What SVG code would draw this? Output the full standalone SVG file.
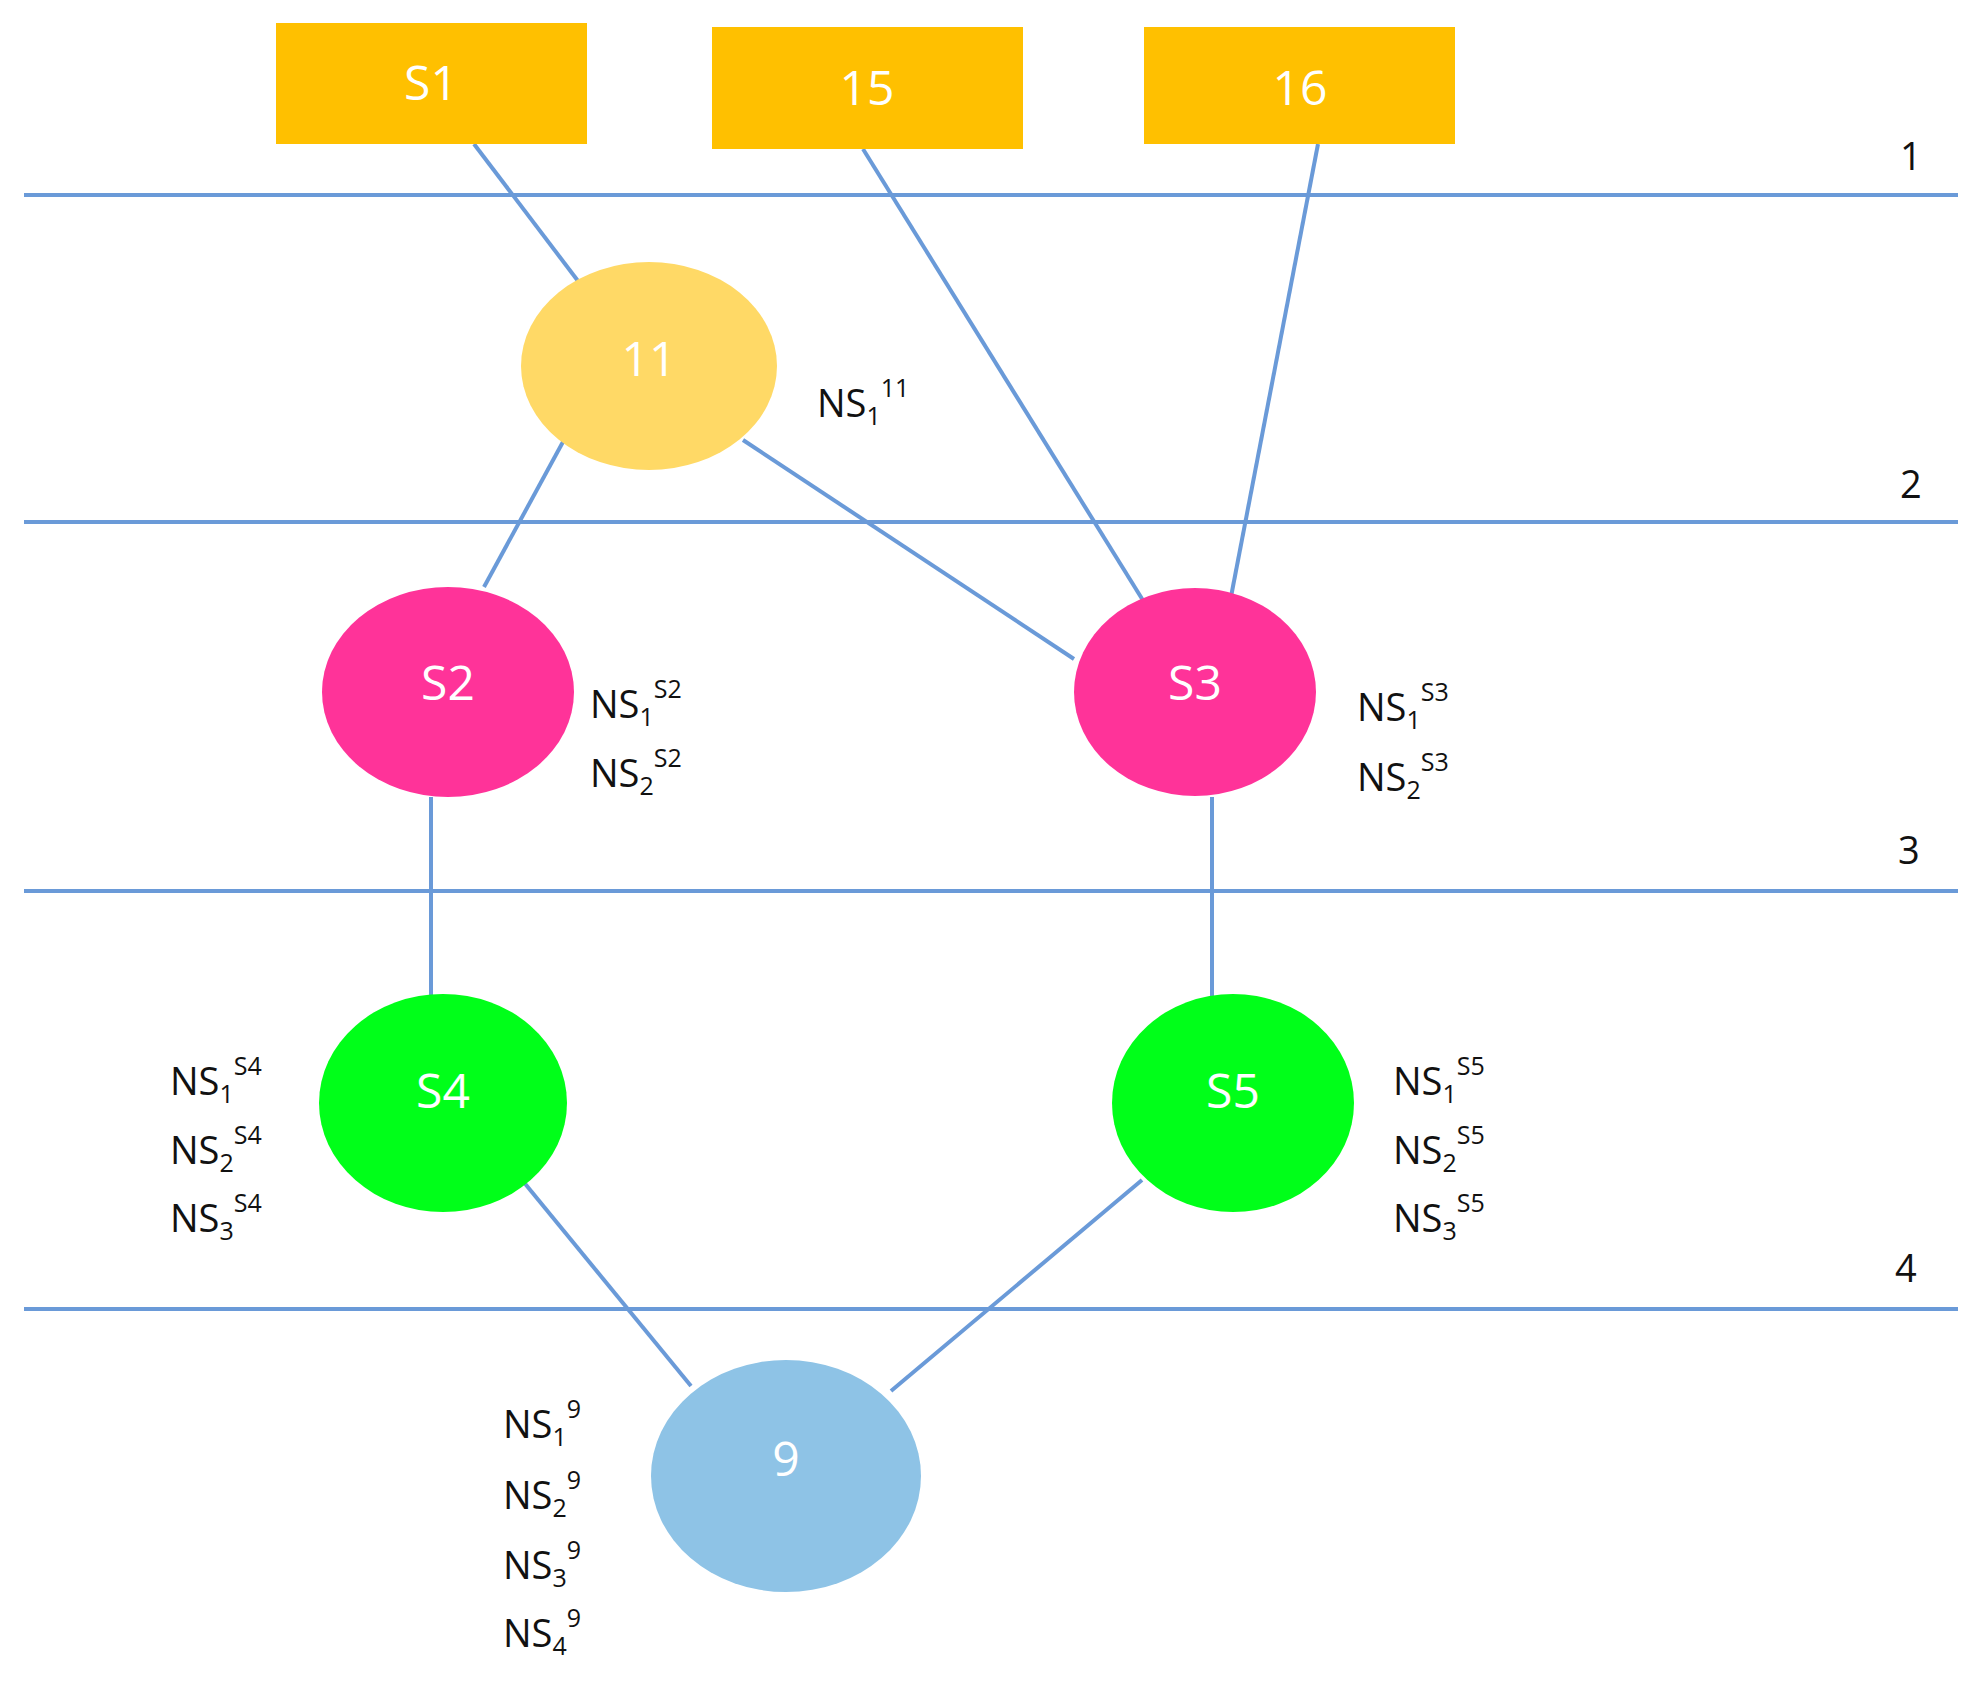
<svg xmlns="http://www.w3.org/2000/svg" width="1984" height="1682" viewBox="0 0 1984 1682">
<style>
.ln{stroke:#6a9ad8;stroke-width:4;fill:none}
.nt{font-family:"Open Sans","Liberation Sans",sans-serif;font-size:48px;fill:#fff;text-anchor:middle}
.lb{font-family:"Open Sans","Liberation Sans",sans-serif;font-size:38px;fill:#111}
.sm{font-size:25px}
.num{font-family:"Open Sans","Liberation Sans",sans-serif;font-size:38px;fill:#111}
</style>
<rect width="1984" height="1682" fill="#fff"/>
<g id="levels" class="ln">
<line x1="24" y1="195" x2="1958" y2="195"/>
<line x1="24" y1="522" x2="1958" y2="522"/>
<line x1="24" y1="891" x2="1958" y2="891"/>
<line x1="24" y1="1309" x2="1958" y2="1309"/>
</g>
<g id="level-labels" class="num">
<text x="1900" y="170">1</text>
<text x="1900" y="498">2</text>
<text x="1898" y="864">3</text>
<text x="1895" y="1282">4</text>
</g>
<g id="connectors" class="ln">
<line x1="474" y1="144" x2="578" y2="281"/>
<line x1="863" y1="149" x2="1144" y2="602"/>
<line x1="1318" y1="144" x2="1230" y2="602"/>
<line x1="564" y1="440" x2="484" y2="587"/>
<line x1="743" y1="440" x2="1074" y2="659"/>
<line x1="431" y1="797" x2="431" y2="996"/>
<line x1="1212" y1="797" x2="1212" y2="996"/>
<line x1="522" y1="1180" x2="691" y2="1386"/>
<line x1="1142" y1="1180" x2="891" y2="1391"/>
</g>
<g id="nS1"><rect x="276" y="23" width="311" height="121" fill="#FFC000"/><text class="nt" x="431" y="100">S1</text></g>
<g id="n15"><rect x="712" y="27" width="311" height="122" fill="#FFC000"/><text class="nt" x="867" y="105">15</text></g>
<g id="n16"><rect x="1144" y="27" width="311" height="117" fill="#FFC000"/><text class="nt" x="1300" y="105">16</text></g>
<g id="n11"><ellipse cx="649" cy="366" rx="128" ry="104" fill="#FFD966"/><text class="nt" x="649" y="376">11</text>
<text class="lb" x="817" y="417">NS<tspan class="sm" dy="8">1</tspan><tspan class="sm" dy="-28">11</tspan></text></g>
<g id="nS2"><ellipse cx="448" cy="692" rx="126" ry="105" fill="#FF3399"/><text class="nt" x="448" y="700">S2</text>
<text class="lb" x="590" y="718">NS<tspan class="sm" dy="8">1</tspan><tspan class="sm" dy="-28">S2</tspan></text>
<text class="lb" x="590" y="787">NS<tspan class="sm" dy="8">2</tspan><tspan class="sm" dy="-28">S2</tspan></text></g>
<g id="nS3"><ellipse cx="1195" cy="692" rx="121" ry="104" fill="#FF3399"/><text class="nt" x="1195" y="700">S3</text>
<text class="lb" x="1357" y="721">NS<tspan class="sm" dy="8">1</tspan><tspan class="sm" dy="-28">S3</tspan></text>
<text class="lb" x="1357" y="791">NS<tspan class="sm" dy="8">2</tspan><tspan class="sm" dy="-28">S3</tspan></text></g>
<g id="nS4"><ellipse cx="443" cy="1103" rx="124" ry="109" fill="#00FF19"/><text class="nt" x="443" y="1108">S4</text>
<text class="lb" x="170" y="1095">NS<tspan class="sm" dy="8">1</tspan><tspan class="sm" dy="-28">S4</tspan></text>
<text class="lb" x="170" y="1164">NS<tspan class="sm" dy="8">2</tspan><tspan class="sm" dy="-28">S4</tspan></text>
<text class="lb" x="170" y="1232">NS<tspan class="sm" dy="8">3</tspan><tspan class="sm" dy="-28">S4</tspan></text></g>
<g id="nS5"><ellipse cx="1233" cy="1103" rx="121" ry="109" fill="#00FF19"/><text class="nt" x="1233" y="1108">S5</text>
<text class="lb" x="1393" y="1095">NS<tspan class="sm" dy="8">1</tspan><tspan class="sm" dy="-28">S5</tspan></text>
<text class="lb" x="1393" y="1164">NS<tspan class="sm" dy="8">2</tspan><tspan class="sm" dy="-28">S5</tspan></text>
<text class="lb" x="1393" y="1232">NS<tspan class="sm" dy="8">3</tspan><tspan class="sm" dy="-28">S5</tspan></text></g>
<g id="n9"><ellipse cx="786" cy="1476" rx="135" ry="116" fill="#8EC3E6"/><text class="nt" x="786" y="1476">9</text>
<text class="lb" x="503" y="1438">NS<tspan class="sm" dy="8">1</tspan><tspan class="sm" dy="-28">9</tspan></text>
<text class="lb" x="503" y="1509">NS<tspan class="sm" dy="8">2</tspan><tspan class="sm" dy="-28">9</tspan></text>
<text class="lb" x="503" y="1579">NS<tspan class="sm" dy="8">3</tspan><tspan class="sm" dy="-28">9</tspan></text>
<text class="lb" x="503" y="1647">NS<tspan class="sm" dy="8">4</tspan><tspan class="sm" dy="-28">9</tspan></text></g>
</svg>
